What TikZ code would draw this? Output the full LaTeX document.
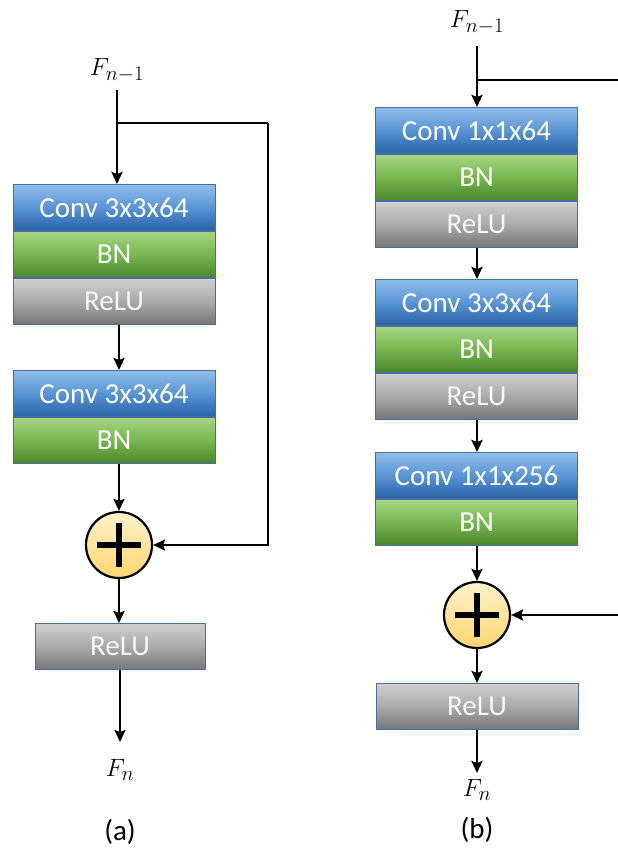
\documentclass[tikz,border=0pt]{standalone}
\usepackage{fontspec}
\setmainfont{Carlito}
\usetikzlibrary{arrows.meta,calc}

\definecolor{convtop}{RGB}{145,190,234}
\definecolor{convmid}{RGB}{88,148,214}
\definecolor{convbot}{RGB}{42,98,168}
\definecolor{bntop}{RGB}{168,214,134}
\definecolor{bnmid}{RGB}{118,182,78}
\definecolor{bnbot}{RGB}{76,134,44}
\definecolor{relutop}{RGB}{208,208,208}
\definecolor{relumid}{RGB}{170,170,170}
\definecolor{relubot}{RGB}{118,118,118}
\definecolor{edgeblue}{RGB}{72,108,168}
\definecolor{sumtop}{RGB}{255,242,206}
\definecolor{sumbot}{RGB}{255,214,110}

\tikzset{
  layer/.style={draw=edgeblue, line width=0.9pt, inner sep=0pt,
    minimum width=202pt, minimum height=46pt, anchor=north,
    text=white, font=\fontsize{29}{30}\selectfont},
  convbox/.style={layer, top color=convtop, bottom color=convbot, middle color=convmid},
  bnbox/.style={layer, top color=bntop, bottom color=bnbot, middle color=bnmid},
  relubox/.style={layer, top color=relutop, bottom color=relubot, middle color=relumid,
    text=white!94!gray},
  sumnode/.style={circle, draw=black, line width=2.2pt, minimum size=66pt, inner sep=0pt,
    top color=sumtop, bottom color=sumbot,
    path picture={
      \draw[line width=5.5pt] ($(path picture bounding box.center)+(-22pt,0)$) -- ($(path picture bounding box.center)+(22pt,0)$);
      \draw[line width=5.5pt] ($(path picture bounding box.center)+(0,-22pt)$) -- ($(path picture bounding box.center)+(0,22pt)$);
    }},
  conn/.style={line width=2.8pt, draw=black},
  arr/.style={conn, -{Stealth[length=12pt,width=11pt,inset=2pt]}},
  mathlbl/.style={font=\fontsize{28}{30}\selectfont, inner sep=0pt},
  caplbl/.style={font=\fontsize{29}{30}\selectfont, inner sep=0pt},
}

\begin{document}
\begin{tikzpicture}[x=1pt,y=-1pt]
  \useasboundingbox[fill=white] (0,0) rectangle (618,854);

  % ---- (a) basic residual block ----
  \node[mathlbl] (afin) at (117,70) {$F_{n-1}$};
  \node[convbox] (a1c) at (114,184) {Conv 3x3x64};
  \node[bnbox]   (a1b) at (a1c.south) {BN};
  \node[relubox] (a1r) at (a1b.south) {ReLU};
  \node[convbox] (a2c) at (114,370) {Conv 3x3x64};
  \node[bnbox]   (a2b) at (a2c.south) {BN};
  \node[sumnode] (aplus) at (119,545) {};
  \node[relubox, minimum width=170pt] (aout) at (120,623) {ReLU};
  \node[mathlbl] (afout) at (120,770) {$F_n$};
  \node[caplbl]  (acap) at (120,832) {(a)};

  \coordinate (atop) at (117,90);
  \coordinate (abr) at (117,123);
  \coordinate (askip) at (268,123);
  \coordinate (aend) at (120,742);

  \draw[arr] (atop) -- (a1c.north -| atop);
  \draw[conn] (abr) -- (askip);
  \draw[arr] (askip) |- (aplus.east);
  \draw[arr] (a1r.south -| aplus) -- (a2c.north -| aplus);
  \draw[arr] (a2b.south -| aplus) -- (aplus.north);
  \draw[arr] (aplus.south) -- (aout.north -| aplus);
  \draw[arr] (aout.south) -- (aend);

  % ---- (b) bottleneck residual block ----
  \node[mathlbl] (bfin) at (477,22) {$F_{n-1}$};
  \begin{scope}[every node/.append style={minimum height=45.5pt}]
    \node[convbox] (b1c) at (476.5,107) {Conv 1x1x64};
    \node[bnbox]   (b1b) at (b1c.south) {BN};
    \node[relubox] (b1r) at (b1b.south) {ReLU};
    \node[convbox] (b2c) at (476.5,279) {Conv 3x3x64};
    \node[bnbox]   (b2b) at (b2c.south) {BN};
    \node[relubox] (b2r) at (b2b.south) {ReLU};
    \node[convbox] (b3c) at (476.5,452) {Conv 1x1x256};
    \node[bnbox]   (b3b) at (b3c.south) {BN};
  \end{scope}
  \node[sumnode] (bplus) at (477,615) {};
  \node[relubox] (bout) at (477,683) {ReLU};
  \node[mathlbl] (bfout) at (477,790) {$F_n$};
  \node[caplbl]  (bcap) at (477,830) {(b)};

  \coordinate (btop) at (477,46);
  \coordinate (bbr) at (477,80);
  \coordinate (bskip) at (618,80);
  \coordinate (bskipin) at (618,615);
  \coordinate (bend) at (477,773);

  \draw[arr] (btop) -- (b1c.north -| btop);
  \draw[conn] (bbr) -- (bskip);
  \draw[arr] (bskipin) -- (bplus.east);
  \draw[arr] (b1r.south -| bplus) -- (b2c.north -| bplus);
  \draw[arr] (b2r.south -| bplus) -- (b3c.north -| bplus);
  \draw[arr] (b3b.south -| bplus) -- (bplus.north);
  \draw[arr] (bplus.south) -- (bout.north -| bplus);
  \draw[arr] (bout.south -| bplus) -- (bend);
\end{tikzpicture}
\end{document}
